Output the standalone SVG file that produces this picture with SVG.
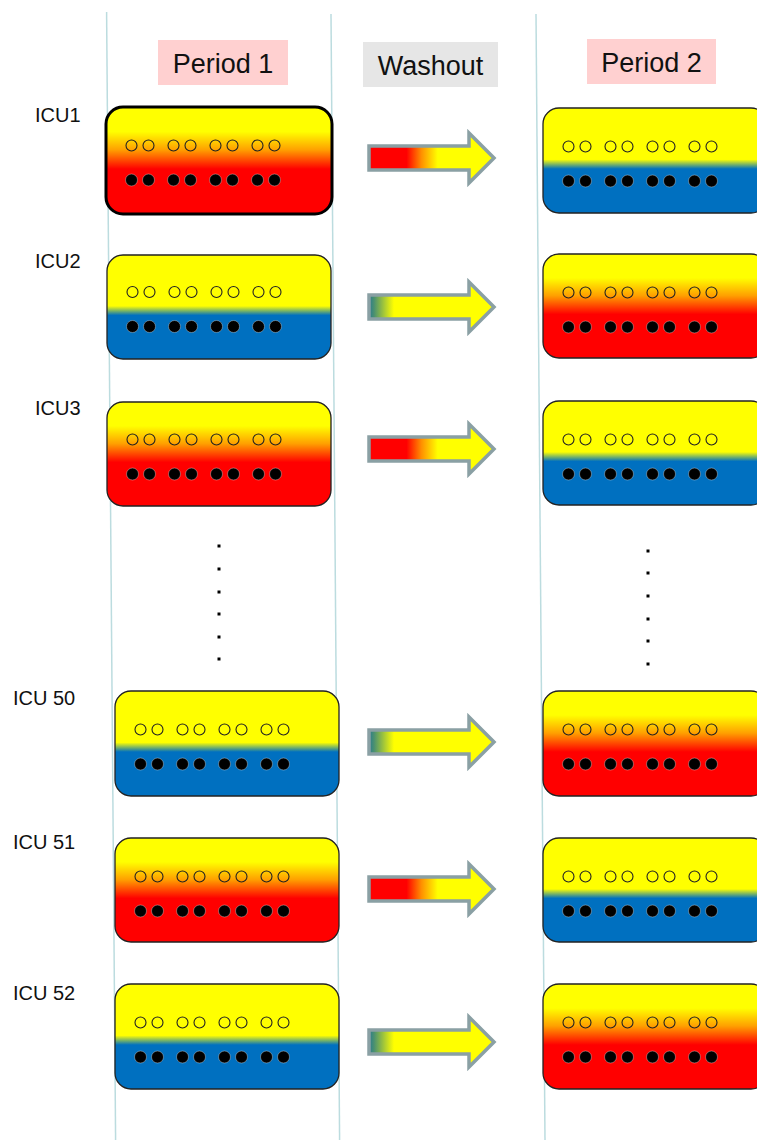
<svg xmlns="http://www.w3.org/2000/svg" xmlns:xlink="http://www.w3.org/1999/xlink" width="757" height="1140" viewBox="0 0 757 1140">
  <style>
    text { font-family: "Liberation Sans", Arial, sans-serif; fill: #111; }
    .head { font-size: 27px; text-anchor: middle; }
    .lab { font-size: 20px; }
    .lane { stroke: #bcdcdf; stroke-width: 1.5; fill: none; }
    .box { stroke: #222; stroke-width: 1.3; }
    .box-bold { stroke: #000; stroke-width: 3; }
    .open { fill: none; stroke: #222; stroke-width: 1.1; }
    .full { fill: #000; stroke: #ddd; stroke-width: 0.4; }
    .arrow { stroke: #8aa0a4; stroke-width: 3.5; stroke-linejoin: miter; }
    .ell { fill: #000; }
  </style>
  <defs>
    <linearGradient id="gRed" x1="0" y1="0" x2="0" y2="1">
      <stop offset="0" stop-color="#ffff00"/>
      <stop offset="0.23" stop-color="#ffff00"/>
      <stop offset="0.40" stop-color="#ffa000"/>
      <stop offset="0.58" stop-color="#ff0000"/>
      <stop offset="1" stop-color="#ff0000"/>
    </linearGradient>
    <linearGradient id="gBlue" x1="0" y1="0" x2="0" y2="1">
      <stop offset="0" stop-color="#ffff00"/>
      <stop offset="0.49" stop-color="#ffff00"/>
      <stop offset="0.58" stop-color="#0070c0"/>
      <stop offset="1" stop-color="#0070c0"/>
    </linearGradient>
    <linearGradient id="aRed" x1="0" y1="0" x2="1" y2="0">
      <stop offset="0" stop-color="#ff0000"/>
      <stop offset="0.30" stop-color="#ff0000"/>
      <stop offset="0.42" stop-color="#ff9000"/>
      <stop offset="0.55" stop-color="#ffff00"/>
      <stop offset="1" stop-color="#ffff00"/>
    </linearGradient>
    <linearGradient id="aBlue" x1="0" y1="0" x2="1" y2="0">
      <stop offset="0" stop-color="#2a7a90"/>
      <stop offset="0.04" stop-color="#4a9070"/>
      <stop offset="0.20" stop-color="#ffff00"/>
      <stop offset="1" stop-color="#ffff00"/>
    </linearGradient>
    <!-- two rows of patients: open and filled circles, box-relative -->
    <g id="pegs">
      <circle class="open" cx="25.5" cy="38.5" r="5.5"/>
      <circle class="open" cx="42.5" cy="38.5" r="5.5"/>
      <circle class="open" cx="67.5" cy="38.5" r="5.5"/>
      <circle class="open" cx="84.5" cy="38.5" r="5.5"/>
      <circle class="open" cx="109.5" cy="38.5" r="5.5"/>
      <circle class="open" cx="126.5" cy="38.5" r="5.5"/>
      <circle class="open" cx="151.5" cy="38.5" r="5.5"/>
      <circle class="open" cx="168.5" cy="38.5" r="5.5"/>
      <circle class="full" cx="25.5" cy="73" r="6"/>
      <circle class="full" cx="42.5" cy="73" r="6"/>
      <circle class="full" cx="67.5" cy="73" r="6"/>
      <circle class="full" cx="84.5" cy="73" r="6"/>
      <circle class="full" cx="109.5" cy="73" r="6"/>
      <circle class="full" cx="126.5" cy="73" r="6"/>
      <circle class="full" cx="151.5" cy="73" r="6"/>
      <circle class="full" cx="168.5" cy="73" r="6"/>
    </g>
    <path id="arrowShape" d="M0,-12 H100 V-25 L125,0 L100,25 V12 H0 Z"/>
  </defs>

  <rect width="757" height="1140" fill="#fff"/>

  <!-- column separators -->
  <g id="lanes">
    <line class="lane" x1="106.6" y1="12" x2="115.6" y2="1140"/>
    <line class="lane" x1="331" y1="14" x2="339.6" y2="1140"/>
    <line class="lane" x1="536" y1="14" x2="545" y2="1140"/>
  </g>

  <!-- column headers -->
  <g id="hdr-period1">
    <rect x="158" y="40" width="130" height="45" fill="#ffd0d0"/>
    <text class="head" x="223" y="73">Period 1</text>
  </g>
  <g id="hdr-washout">
    <rect x="363" y="42" width="135" height="45" fill="#e6e6e6"/>
    <text class="head" x="430.5" y="75">Washout</text>
  </g>
  <g id="hdr-period2">
    <rect x="587" y="39" width="129" height="45" fill="#ffd0d0"/>
    <text class="head" x="651.5" y="72">Period 2</text>
  </g>

  <!-- row labels -->
  <g id="labels">
    <text class="lab" x="35" y="122">ICU1</text>
    <text class="lab" x="35" y="268">ICU2</text>
    <text class="lab" x="35" y="415">ICU3</text>
    <text class="lab" x="13" y="705">ICU 50</text>
    <text class="lab" x="13" y="849">ICU 51</text>
    <text class="lab" x="13" y="1000">ICU 52</text>
  </g>

  <!-- period 1 clusters -->
  <g id="icu1-p1" transform="translate(106,107)">
    <rect class="box-bold" width="226" height="107" rx="17" fill="url(#gRed)"/>
    <use xlink:href="#pegs"/>
  </g>
  <g id="icu2-p1" transform="translate(107,255)">
    <rect class="box" width="224" height="104" rx="16" fill="url(#gBlue)"/>
    <use xlink:href="#pegs" transform="translate(0,-1.5)"/>
  </g>
  <g id="icu3-p1" transform="translate(107,402)">
    <rect class="box" width="224" height="104" rx="16" fill="url(#gRed)"/>
    <use xlink:href="#pegs" transform="translate(0,-1)"/>
  </g>
  <g id="icu50-p1" transform="translate(115,691)">
    <rect class="box" width="224" height="105" rx="16" fill="url(#gBlue)"/>
    <use xlink:href="#pegs"/>
  </g>
  <g id="icu51-p1" transform="translate(115,838)">
    <rect class="box" width="224" height="104" rx="16" fill="url(#gRed)"/>
    <use xlink:href="#pegs"/>
  </g>
  <g id="icu52-p1" transform="translate(115,984)">
    <rect class="box" width="224" height="105" rx="16" fill="url(#gBlue)"/>
    <use xlink:href="#pegs"/>
  </g>

  <!-- period 2 clusters -->
  <g id="icu1-p2" transform="translate(543,108)">
    <rect class="box" width="224" height="105" rx="16" fill="url(#gBlue)"/>
    <use xlink:href="#pegs"/>
  </g>
  <g id="icu2-p2" transform="translate(543,254)">
    <rect class="box" width="224" height="104" rx="16" fill="url(#gRed)"/>
    <use xlink:href="#pegs"/>
  </g>
  <g id="icu3-p2" transform="translate(543,401)">
    <rect class="box" width="224" height="104" rx="16" fill="url(#gBlue)"/>
    <use xlink:href="#pegs"/>
  </g>
  <g id="icu50-p2" transform="translate(543,691)">
    <rect class="box" width="224" height="105" rx="16" fill="url(#gRed)"/>
    <use xlink:href="#pegs"/>
  </g>
  <g id="icu51-p2" transform="translate(543,838)">
    <rect class="box" width="224" height="104" rx="16" fill="url(#gBlue)"/>
    <use xlink:href="#pegs"/>
  </g>
  <g id="icu52-p2" transform="translate(543,984)">
    <rect class="box" width="224" height="105" rx="16" fill="url(#gRed)"/>
    <use xlink:href="#pegs"/>
  </g>

  <!-- vertical ellipses between ICU3 and ICU 50 -->
  <g id="ellipsis-p1">
    <rect class="ell" x="217.5" y="544.5" width="3" height="3"/>
    <rect class="ell" x="217.5" y="567.5" width="3" height="3"/>
    <rect class="ell" x="217.5" y="590.5" width="3" height="3"/>
    <rect class="ell" x="217.5" y="612.5" width="3" height="3"/>
    <rect class="ell" x="217.5" y="635.5" width="3" height="3"/>
    <rect class="ell" x="217.5" y="657.5" width="3" height="3"/>
  </g>
  <g id="ellipsis-p2">
    <rect class="ell" x="646.5" y="549.5" width="3" height="3"/>
    <rect class="ell" x="646.5" y="571.5" width="3" height="3"/>
    <rect class="ell" x="646.5" y="594.5" width="3" height="3"/>
    <rect class="ell" x="646.5" y="617.5" width="3" height="3"/>
    <rect class="ell" x="646.5" y="639.5" width="3" height="3"/>
    <rect class="ell" x="646.5" y="662.5" width="3" height="3"/>
  </g>

  <!-- washout arrows -->
  <g id="connectors">
    <use class="arrow" xlink:href="#arrowShape" fill="url(#aRed)" transform="translate(369,158)"/>
    <use class="arrow" xlink:href="#arrowShape" fill="url(#aBlue)" transform="translate(369,307)"/>
    <use class="arrow" xlink:href="#arrowShape" fill="url(#aRed)" transform="translate(369,449)"/>
    <use class="arrow" xlink:href="#arrowShape" fill="url(#aBlue)" transform="translate(369,742)"/>
    <use class="arrow" xlink:href="#arrowShape" fill="url(#aRed)" transform="translate(369,889)"/>
    <use class="arrow" xlink:href="#arrowShape" fill="url(#aBlue)" transform="translate(369,1042)"/>
  </g>
</svg>
